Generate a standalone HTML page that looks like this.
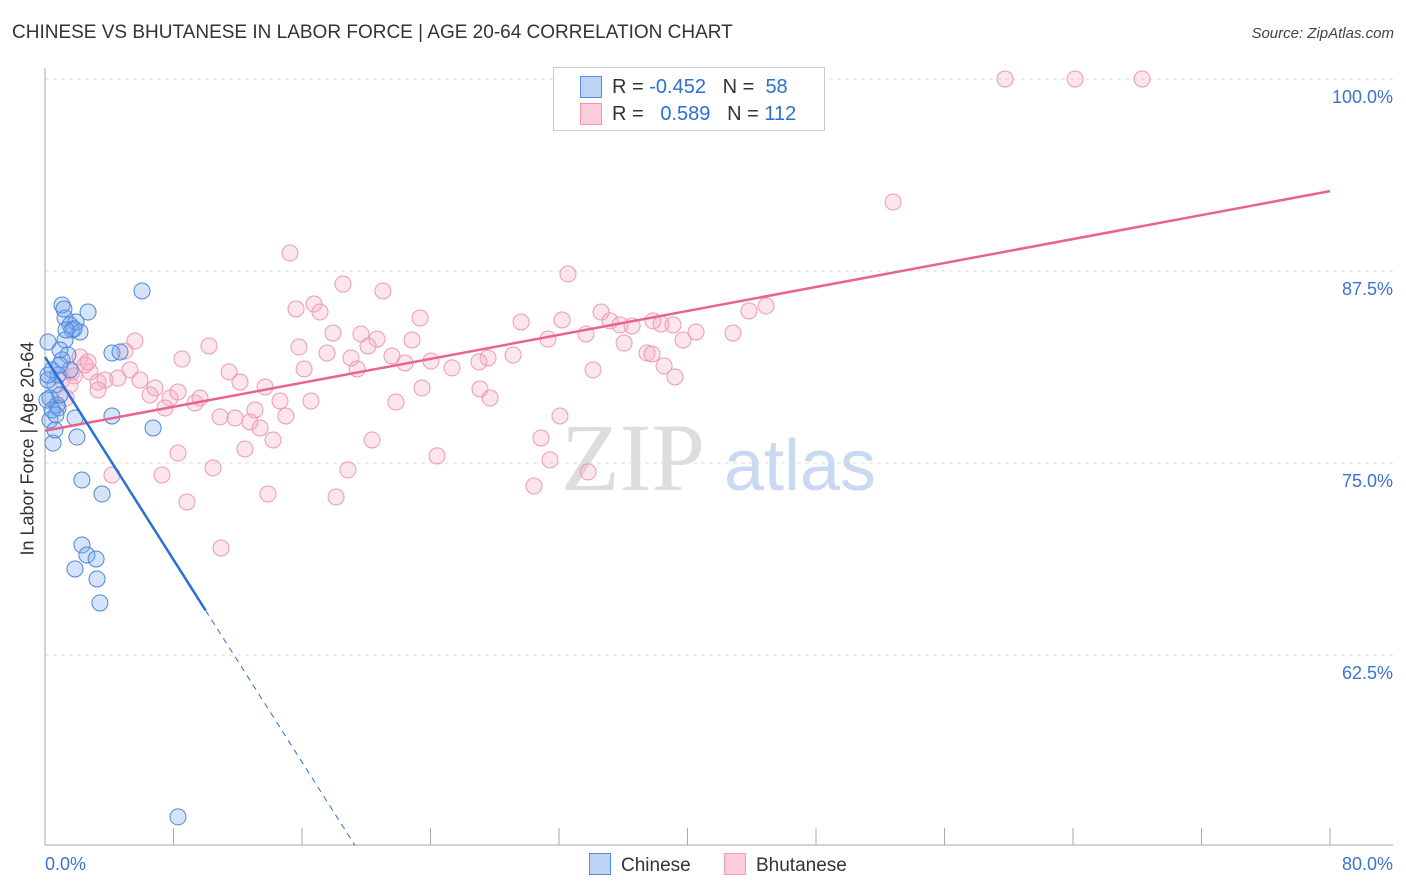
<!DOCTYPE html>
<html><head><meta charset="utf-8"><style>
body{margin:0;background:#fff;font-family:"Liberation Sans",sans-serif;}
#wrap{position:relative;width:1406px;height:892px;overflow:hidden}
.t{position:absolute;white-space:nowrap}
</style></head><body><div id="wrap">
<div class="t" style="left:12px;top:22px;font-size:19px;color:#333">CHINESE VS BHUTANESE IN LABOR FORCE | AGE 20-64 CORRELATION CHART</div>
<div class="t" style="right:12px;top:25px;font-size:15px;color:#444;font-style:italic">Source: ZipAtlas.com</div>
<div class="t" style="left:-72px;top:445px;font-size:18px;color:#333;transform:rotate(-90deg);width:200px;text-align:center">In Labor Force | Age 20-64</div>
<svg id="svg" width="1406" height="892" style="position:absolute;left:0;top:0"></svg>
</div>
<script>
const yTicks=[100,87.5,75,62.5];
const yTickLabels=["100.0%","87.5%","75.0%","62.5%"];
const xTickLabels=["0.0%","80.0%"];
const chineseX=[0.19,0.44,0.62,0.31,0.75,1.06,1.25,1.56,1.68,1.93,2.18,2.68,1.43,1.06,0.81,0.31,0.5,0.81,1.87,1.99,2.3,3.55,2.3,2.61,3.18,1.87,3.24,3.42,4.17,4.17,4.67,6.04,6.73,8.28,0.93,0.62,1.25,1.56,0.93,0.19,0.44,0.68,0.12,1.18,1.81,1.31,0.93,0.19];
const chineseY=[82.88,81.06,80.08,79.24,78.78,85.29,84.44,83.99,83.66,84.18,83.53,84.83,82.03,81.71,80.73,77.8,76.3,78.58,77.93,76.69,73.89,72.98,69.66,69.01,68.75,68.1,67.45,65.89,78.06,82.16,82.23,86.2,77.28,51.96,79.43,77.15,83.01,81.06,82.36,80.4,78.45,78.13,79.1,85.03,83.73,83.66,81.38,80.73];
const bhutX=[59.77,64.13,68.3,52.8,15.25,32.56,18.55,21.04,16.75,15.63,17.12,44.89,43.83,34.62,23.35,29.64,32.19,35.18,35.8,36.55,37.85,38.35,39.1,40.53,42.83,33.68,31.32,17.93,19.67,20.67,22.85,39.72,36.05,10.21,15.81,20.11,17.56,21.6,19.05,27.58,29.14,37.48,37.79,24.03,22.41,8.53,27.02,19.43,16.13,25.34,38.54,34.12,39.22,11.46,27.08,23.47,13.7,21.85,27.71,14.63,16.56,12.14,5.6,4.98,2.18,2.49,2.8,1.81,3.3,3.74,4.54,5.29,5.91,6.85,7.78,3.3,6.54,7.47,8.28,9.34,9.65,10.9,11.83,13.07,12.76,13.39,15.0,32.06,30.88,20.36,14.2,12.45,8.28,24.41,31.44,18.86,7.28,10.46,4.17,30.44,33.81,13.88,18.12,8.84,10.96,1.06,1.56,1.31,1.68,2.68];
const bhutY=[100,100,100,91.99,88.67,87.31,86.65,86.2,85.35,85.03,84.83,85.22,84.9,84.83,84.44,84.18,84.31,84.25,83.99,83.92,84.25,84.05,83.99,83.53,83.46,83.4,83.07,83.46,83.4,83.07,83.01,83.01,82.81,82.62,82.55,82.62,82.16,81.97,81.84,81.84,82.03,82.16,82.1,81.64,81.51,81.77,81.58,81.12,81.12,81.19,81.32,81.06,80.6,80.93,79.82,79.88,79.95,78.97,79.23,79.04,79.04,80.27,82.94,82.29,81.9,81.38,80.93,80.67,80.27,80.4,80.53,81.06,80.4,79.88,79.23,79.75,79.43,78.58,79.62,78.91,79.23,78.0,77.93,78.45,77.67,77.28,78.06,78.06,76.63,76.5,76.5,75.91,75.65,75.46,75.2,74.55,74.22,74.68,74.22,73.5,74.42,72.98,72.79,72.46,69.47,80.4,80.08,79.23,80.93,81.58];
const chineseLine=[[0,81.9],[10,65.4]];
const chineseDash=[[10,65.4],[19.3,50.1]];
const bhutLine=[[0,77.1],[80,92.7]];
const X=v=>45+v/80*1285, Y=v=>79+(100-v)*15.36;
const svg=document.getElementById('svg');const NS='http://www.w3.org/2000/svg';
function mk(t,a){const e=document.createElementNS(NS,t);for(const k in a)e.setAttribute(k,a[k]);svg.appendChild(e);return e;}
yTicks.forEach((v,i)=>{const l=mk('line',{x1:45,x2:1393,y1:Y(v),y2:Y(v),stroke:'#ddd','stroke-dasharray':'4,4'});

const t=mk('text',{x:1393,y:Y(v)+24,'text-anchor':'end','font-size':18,fill:'#3b73d0'});t.textContent=yTickLabels[i];
});
let a=mk('line',{x1:45,x2:45,y1:68,y2:845,stroke:'#aaa'});
a=mk('line',{x1:45,x2:1393,y1:845,y2:845,stroke:'#aaa'});
for(let i=0;i<=10;i++){const l=mk('line',{x1:X(i*8),x2:X(i*8),y1:828,y2:845,stroke:'#aaa'});}
[[0,'start',45],[80,'end',1393]].forEach((d,i)=>{const t=mk('text',{x:d[2],y:870,'text-anchor':d[1],'font-size':18,fill:'#3b73d0'});t.textContent=xTickLabels[i];});
let w=mk('text',{x:633,y:490,'text-anchor':'middle','font-size':96,fill:'#ddd','font-family':'Liberation Serif'});w.textContent='ZIP';
w=mk('text',{x:800,y:490,'text-anchor':'middle','font-size':72,fill:'#c9d9f2'});w.textContent='atlas';
bhutX.forEach((x,i)=>{const c=mk('circle',{cx:X(x),cy:Y(bhutY[i]),r:8,fill:'rgba(248,170,195,0.3)',stroke:'#ec9ab4','stroke-width':1});});
chineseX.forEach((x,i)=>{const c=mk('circle',{cx:X(x),cy:Y(chineseY[i]),r:8,fill:'rgba(120,165,235,0.3)',stroke:'#4f86d8','stroke-width':1});});
let L=mk('line',{x1:X(bhutLine[0][0]),y1:Y(bhutLine[0][1]),x2:X(bhutLine[1][0]),y2:Y(bhutLine[1][1]),stroke:'#e8648f','stroke-width':2.5});
L=mk('line',{x1:X(chineseLine[0][0]),y1:Y(chineseLine[0][1]),x2:X(chineseLine[1][0]),y2:Y(chineseLine[1][1]),stroke:'#2a6fd6','stroke-width':2.5});
L=mk('line',{x1:X(chineseDash[0][0]),y1:Y(chineseDash[0][1]),x2:X(chineseDash[1][0]),y2:Y(chineseDash[1][1]),stroke:'#2a6fd6','stroke-width':1,'stroke-dasharray':'6,5'});
</script>
<div style="position:absolute;left:553px;top:67px;width:270px;height:62px;border:1px solid #ccc;background:#fff;font-size:20px;color:#333">
<div style="position:absolute;left:26px;top:8px;width:20px;height:20px;background:#bcd3f5;border:1px solid #5a8ede"></div>
<div class="t" style="left:58px;top:8px">R = <span style="color:#2a6fd6">-0.452</span>&nbsp;&nbsp;&nbsp;N = &nbsp;<span style="color:#2a6fd6">58</span></div>
<div style="position:absolute;left:26px;top:35px;width:20px;height:20px;background:#fbcddb;border:1px solid #ec9ab4"></div>
<div class="t" style="left:58px;top:35px">R = &nbsp;&nbsp;<span style="color:#2a6fd6">0.589</span>&nbsp;&nbsp;&nbsp;N = <span style="color:#2a6fd6">112</span></div>
</div>
<div style="position:absolute;left:589px;top:853px;font-size:19px;color:#333">
<span style="display:inline-block;width:20px;height:20px;background:#bcd3f5;border:1px solid #5a8ede;vertical-align:-4px;margin-right:10px"></span>Chinese</div>
<div style="position:absolute;left:724px;top:853px;font-size:19px;color:#333">
<span style="display:inline-block;width:20px;height:20px;background:#fbcddb;border:1px solid #ec9ab4;vertical-align:-4px;margin-right:10px"></span>Bhutanese</div>
</body></html>
